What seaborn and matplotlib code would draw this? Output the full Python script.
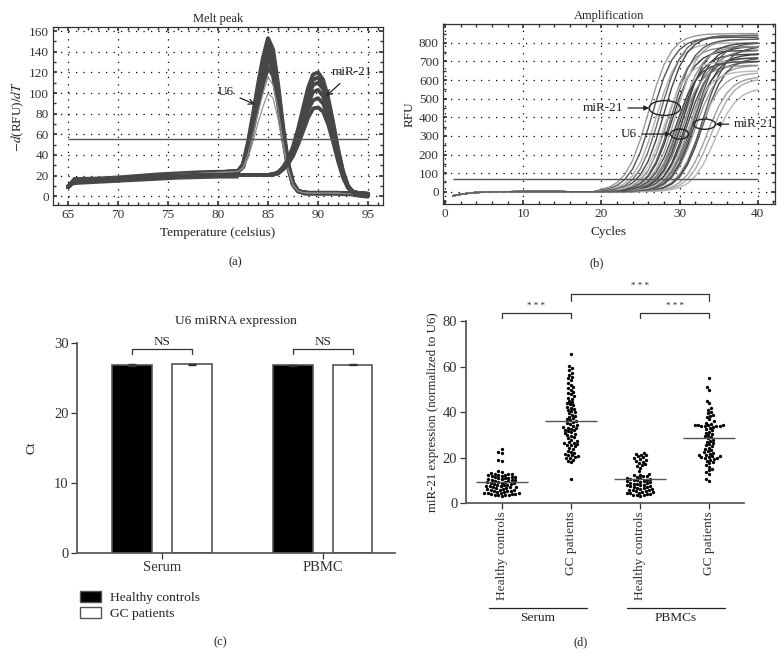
import numpy as np
import pandas as pd
import matplotlib
matplotlib.use('Agg')
import matplotlib.pyplot as plt
from matplotlib.patches import Ellipse, Patch
from matplotlib.ticker import AutoMinorLocator
import seaborn as sns

# ---------------- DATA ----------------
# (a) melt peak: temperature grid and curves
melt_temps = [65, 65.5, 66, 68, 70, 72, 74, 76, 78, 80, 81, 82,
              82.5, 83, 83.5, 84, 84.5, 85, 85.5, 86, 86.5, 87, 87.5, 88,
              88.5, 89, 89.5, 90, 90.5, 91, 91.5, 92, 92.5, 93, 93.5, 94, 95]
u6_start = [9, 14, 14, 15, 16.5, 18, 19.5, 21, 22, 23, 23.5, 24]
u6_end = [3.5, 3, 3, 3, 3, 3, 3, 3, 2.5, 2.5, 2.5, 2, 1.5]
u6_peaks = [
    [31, 52, 79, 108, 134, 153, 142, 108, 67, 32, 13, 5],
    [30, 50, 76, 104, 129, 147, 137, 104, 64, 31, 12, 5],
    [30, 48, 72, 98, 122, 140, 130, 100, 62, 30, 12, 5],
    [29, 46, 69, 94, 116, 133, 124, 95, 59, 29, 11, 5],
    [28, 44, 65, 88, 109, 125, 117, 90, 56, 28, 11, 5],
]
u6_faint = [
    [28, 41, 60, 81, 100, 115, 108, 84, 53, 27, 11, 5],
    [27, 37, 53, 71, 87, 100, 95, 75, 48, 25, 10, 5],
]
mir_start = [9, 14, 14, 15, 16.5, 17.5, 18.5, 19.5, 20, 20.5, 20.5, 20.5,
             20.5, 20.5, 20.5, 20.5, 20.5, 20.5, 21]
mir_end = [3, 2]
mir_peaks = [
    [23, 28, 36, 48, 65, 85, 105, 118, 120, 113, 96, 72, 46, 24, 10, 4],
    [23, 27, 35, 47, 63, 82, 101, 113, 115, 108, 92, 69, 44, 23, 9, 4],
    [23, 27, 34, 45, 60, 78, 96, 108, 110, 104, 88, 66, 42, 22, 9, 4],
    [23, 27, 33, 43, 57, 74, 90, 101, 103, 97, 83, 62, 40, 21, 9, 4],
    [22, 26, 32, 41, 54, 69, 84, 93, 95, 90, 77, 58, 37, 20, 8, 4],
    [22, 26, 31, 39, 50, 63, 76, 85, 86, 82, 70, 53, 34, 18, 8, 4],
]
# spread of the ~100 overlapping traces on the flat parts
melt_band_lo = [8, 11, 11.5, 12.5, 13.5, 14.5, 15.5, 16.5, 17, 17.5, 17.5, 17.5]
melt_band_hi = [13, 19, 19, 19.5, 20.5, 22, 23.5, 24.5, 25.5, 26, 26, 26]
melt_tail_lo = [1, 1, 1, 1, 1, 1, 1, 1, 0.5, 0.5, 0, -1, -2]
melt_tail_hi = [6, 5.5, 5.5, 5.5, 5.5, 5.5, 5.5, 5.5, 5.5, 5.5, 5, 5, 5]
melt_threshold = 55

# (b) amplification curves
amp_base_cycles = [1, 2, 3, 4, 5, 6, 8, 10, 12, 14, 16, 18, 19]
amp_base_rfu = [-22, -14, -8, -4, -2, -1, 0, 1, 1, 1, 0, 0, 0]
amp_cycles = [20, 21, 22, 23, 24, 25, 26, 27, 28, 29, 30,
              31, 32, 33, 34, 35, 36, 37, 38, 39, 40]
amp_curves = [
    [13, 25, 49, 93, 168, 282, 425, 568, 682, 757, 802, 825, 837, 844, 847, 848, 849, 850, 850, 850, 850],
    [9, 17, 34, 66, 123, 215, 343, 487, 615, 707, 764, 796, 813, 821, 826, 828, 829, 830, 830, 830, 830],
    [6, 12, 23, 46, 87, 158, 266, 400, 534, 642, 713, 754, 777, 788, 794, 797, 798, 799, 800, 800, 800],
    [3, 6, 12, 25, 48, 92, 166, 279, 420, 561, 674, 748, 792, 816, 827, 834, 837, 838, 839, 840, 840],
    [2, 4, 8, 16, 32, 62, 115, 202, 322, 458, 578, 665, 718, 748, 764, 771, 776, 778, 779, 780, 780],
    [1, 3, 6, 11, 22, 44, 83, 150, 252, 380, 508, 610, 677, 717, 738, 749, 755, 757, 758, 759, 760],
    [1, 2, 4, 9, 17, 34, 65, 121, 212, 339, 481, 608, 699, 755, 786, 803, 811, 816, 818, 819, 820],
    [1, 1, 3, 5, 11, 22, 42, 81, 147, 246, 370, 494, 593, 659, 698, 719, 729, 735, 737, 739, 740],
    [0, 1, 2, 4, 8, 15, 30, 57, 107, 186, 297, 423, 534, 613, 663, 690, 705, 712, 716, 718, 719],
    [0, 1, 1, 3, 6, 12, 23, 45, 85, 154, 259, 390, 521, 626, 695, 736, 757, 768, 775, 777, 778],
    [0, 0, 1, 2, 4, 7, 15, 29, 55, 104, 181, 289, 411, 519, 596, 645, 671, 685, 692, 696, 698],
    [0, 0, 1, 1, 3, 5, 10, 20, 39, 74, 135, 226, 340, 454, 545, 606, 641, 660, 670, 675, 677],
    [0, 0, 0, 1, 1, 3, 5, 11, 21, 41, 78, 143, 239, 360, 481, 577, 642, 679, 699, 709, 715],
    [0, 0, 0, 0, 1, 2, 3, 7, 13, 25, 49, 92, 161, 256, 364, 459, 528, 571, 595, 607, 613],
    [0, 0, 0, 0, 0, 1, 1, 3, 6, 12, 23, 44, 83, 145, 231, 329, 415, 477, 516, 537, 548],
    [1, 3, 6, 12, 24, 47, 89, 162, 272, 410, 548, 658, 731, 773, 796, 808, 814, 817, 818, 819, 820],
    [1, 1, 3, 5, 10, 20, 39, 74, 135, 226, 340, 454, 545, 606, 641, 660, 670, 675, 677, 679, 679],
    [0, 1, 2, 4, 8, 17, 33, 63, 118, 207, 330, 470, 593, 682, 737, 767, 783, 791, 796, 798, 799],
    [0, 1, 1, 3, 5, 11, 21, 41, 78, 143, 239, 360, 481, 577, 642, 679, 699, 709, 715, 717, 719],
    [0, 0, 1, 2, 4, 8, 16, 31, 60, 112, 197, 314, 446, 563, 648, 700, 729, 744, 752, 756, 758],
    [0, 0, 1, 1, 3, 5, 11, 22, 42, 81, 147, 246, 370, 494, 593, 659, 698, 719, 729, 735, 737],
    [0, 0, 0, 1, 2, 3, 7, 13, 26, 51, 95, 166, 264, 376, 474, 545, 589, 614, 627, 633, 637],
    [3, 5, 10, 21, 40, 76, 139, 232, 350, 468, 561, 624, 660, 680, 690, 695, 697, 699, 699, 700, 700],
    [4, 9, 17, 34, 66, 124, 218, 347, 493, 622, 716, 774, 806, 822, 831, 836, 837, 839, 840, 840, 840],
    [0, 0, 0, 1, 1, 3, 6, 12, 23, 45, 85, 154, 259, 390, 521, 626, 695, 736, 757, 768, 775],
    [1, 1, 3, 6, 12, 23, 45, 85, 154, 259, 390, 521, 626, 695, 736, 757, 768, 775, 777, 778, 779],
    [0, 1, 1, 2, 5, 10, 19, 37, 71, 129, 216, 325, 434, 521, 579, 613, 631, 640, 645, 647, 649],
    [1, 2, 4, 7, 15, 29, 55, 104, 181, 289, 411, 519, 596, 645, 671, 685, 692, 697, 698, 699, 700],
    [0, 0, 0, 0, 1, 1, 2, 5, 9, 18, 35, 66, 121, 203, 305, 407, 489, 544, 575, 592, 601],
    [0, 0, 1, 1, 3, 6, 12, 23, 46, 87, 158, 266, 400, 534, 642, 713, 754, 777, 788, 794, 797],
]
amp_threshold = 70

# (c) U6 Ct values
u6_tissues = ['Serum', 'PBMC']
u6_hc_ct = [26.85, 26.8]
u6_gc_ct = [26.95, 26.9]
u6_hc_sem = [0.15, 0.12]
u6_gc_sem = [0.12, 0.1]

# (d) relative miR-21 expression per subject
serum_hc = [3.2, 3.4, 3.5, 3.7, 3.8, 4.0, 4.1, 4.2, 4.3, 4.4, 4.5, 4.6, 4.8,
            5.0, 5.2, 5.4, 5.5, 5.7, 5.9, 6.0, 6.2, 6.4, 6.5,
            6.7, 6.9, 7.0, 7.2, 7.4, 7.5, 7.7, 7.9, 8.0, 8.2,
            8.4, 8.5, 8.7, 8.9, 9.0, 9.2, 9.4, 9.5, 9.7, 9.9,
            10.0, 10.2, 10.4, 10.5, 10.7, 10.9, 11.0, 11.2, 11.4, 11.5,
            11.7, 11.9, 12.0, 12.2, 12.4, 12.5, 12.7, 12.9, 13.0, 13.3,
            13.6, 14.0, 18.5, 19.0, 22.0, 22.3, 24.0]
serum_gc = [10.8, 18.0, 18.5, 19.2, 19.8, 20.0, 20.4, 20.8, 21.0, 21.3, 21.7, 22.0,
            22.5, 23.0, 23.8, 24.3, 25.0, 25.4, 25.8, 26.0, 26.3, 26.7, 27.0, 27.5,
            28.0, 28.5, 29.0, 29.5, 30.0, 30.4, 30.8, 31.2, 31.6, 32.0, 32.4, 32.8,
            33.0, 33.3, 33.7, 34.0, 34.4, 34.8, 35.2, 35.6, 36.0, 36.5, 37.0, 37.5,
            38.0, 38.5, 39.0, 39.5, 40.0, 40.5, 41.0, 41.5, 42.0, 42.5, 43.0, 43.5,
            44.0, 44.5, 45.0, 46.0, 46.5, 47.0, 48.0, 48.5, 49.0, 50.0, 50.5, 51.0,
            52.0, 53.0, 54.0, 55.0, 55.5, 56.5, 57.5, 58.5, 59.5, 60.5, 65.5]
pbmc_hc = [3.2, 3.4, 3.6, 3.8, 4.0, 4.1, 4.3, 4.5, 4.6, 4.8, 5.0, 5.2, 5.4,
           5.6, 5.8, 6.0, 6.2, 6.4, 6.6, 6.8, 7.0, 7.2, 7.4, 7.6, 7.8, 8.0,
           8.2, 8.4, 8.6, 8.8, 9.0, 9.2, 9.4, 9.6, 9.8, 10.0, 10.2, 10.4, 10.6,
           10.8, 11.0, 11.2, 11.5, 11.8, 12.0, 12.3, 12.6, 13.0, 14.0, 15.5,
           16.2, 16.8, 17.3, 17.8, 18.3, 18.7, 19.0, 19.4, 19.8, 20.2, 20.6,
           21.0, 21.4, 21.8, 22.2]
pbmc_gc = [9.8, 10.5, 13.0, 13.8, 14.5, 15.2, 16.0, 16.8, 17.5, 18.0, 18.5,
           19.0, 19.3, 19.7, 20.0, 20.1, 20.3, 20.6, 20.8, 21.0, 21.3, 21.7, 22.0,
           22.5, 23.0, 23.5, 24.0, 24.5, 25.0, 25.5, 26.0, 26.5, 27.0, 27.5,
           28.0, 28.5, 29.0, 29.5, 30.0, 30.5, 31.0, 31.5, 32.0, 32.5, 33.0,
           33.5, 33.8, 33.9, 34.0, 34.1, 34.2, 34.3, 34.5, 34.6, 35.0, 35.5,
           36.0, 37.0, 38.0, 38.5, 39.0, 39.5, 40.0, 41.0, 42.0, 44.0, 45.0,
           50.0, 51.0, 55.0]
d_groups = ['serum_hc', 'serum_gc', 'pbmc_hc', 'pbmc_gc']
d_ticklabels = ['Healthy controls', 'GC patients', 'Healthy controls', 'GC patients']

# ---------------- STYLE ----------------
sns.set_theme(style='ticks')
plt.rcParams['font.family'] = ['Liberation Serif', 'DejaVu Serif']
plt.rcParams['mathtext.fontset'] = 'stix'
plt.rcParams['axes.edgecolor'] = '#333333'
plt.rcParams['text.color'] = '#222222'
plt.rcParams['axes.labelcolor'] = '#222222'
plt.rcParams['xtick.color'] = '#333333'
plt.rcParams['ytick.color'] = '#333333'
FS = 9

fig = plt.figure(figsize=(7.84, 6.56), dpi=100)


def instrument_axes(ax):
    # boxed frame, inward minor ticks, dotted grid like the qPCR software
    for s in ax.spines.values():
        s.set_visible(True)
        s.set_linewidth(0.9)
    ax.xaxis.set_minor_locator(AutoMinorLocator(5))
    ax.yaxis.set_minor_locator(AutoMinorLocator(2))
    ax.tick_params(which='both', direction='in', top=True, right=True,
                   labelsize=FS + 0.5, pad=3)
    ax.tick_params(which='major', length=3)
    ax.tick_params(which='minor', length=2)
    ax.grid(True, which='major', color='black', linestyle=(0, (1, 5)), linewidth=0.9)


# ---------------- (a) MELT PEAK ----------------
ax_a = fig.add_axes([0.0676, 0.6875, 0.421, 0.271])
ax_a.fill_between(melt_temps[:12], melt_band_lo, melt_band_hi, color='#4a4a4a', lw=0)
ax_a.fill_between(melt_temps[-13:], melt_tail_lo, melt_tail_hi, color='#4a4a4a', lw=0)
for pk in u6_peaks:
    sns.lineplot(x=melt_temps, y=u6_start + pk + u6_end, ax=ax_a, color='#474747', lw=3.0)
for pk in u6_faint:
    sns.lineplot(x=melt_temps, y=u6_start + pk + u6_end, ax=ax_a, color='#8a8a8a', lw=0.8)
for pk in mir_peaks:
    sns.lineplot(x=melt_temps, y=mir_start + pk + mir_end, ax=ax_a, color='#474747', lw=2.8)
ax_a.hlines(melt_threshold, 65, 95, color='#555555', lw=1)
ax_a.set_xlim(63.5, 96.5)
ax_a.set_ylim(-8.6, 163.8)
ax_a.set_xticks([65, 70, 75, 80, 85, 90, 95])
ax_a.set_yticks(range(0, 161, 20))
instrument_axes(ax_a)
ax_a.set_title('Melt peak', fontsize=FS, pad=4)
ax_a.set_xlabel('Temperature (celsius)', fontsize=FS + 0.5, labelpad=4)
ax_a.set_ylabel(r'$-d$(RFU)$/dT$', fontsize=FS + 0.5, labelpad=2)
ax_a.annotate('U6', xy=(83.7, 89), xytext=(80.0, 101), fontsize=FS + 0.5,
              va='center', arrowprops=dict(arrowstyle='->', color='#222222', lw=0.9,
                                            shrinkA=2, shrinkB=0))
ax_a.annotate('miR-21', xy=(90.8, 97), xytext=(91.4, 120), fontsize=FS + 0.5,
              va='center', arrowprops=dict(arrowstyle='->', color='#222222', lw=0.9,
                                            shrinkA=2, shrinkB=0))

# ---------------- (b) AMPLIFICATION ----------------
ax_b = fig.add_axes([0.565, 0.689, 0.4235, 0.274])
amp_greys = ['#9a9a9a', '#555555', '#b0b0b0', '#444444', '#888888',
             '#3c3c3c', '#a5a5a5', '#444444', '#777777', '#3a3a3a',
             '#666666', '#9a9a9a', '#505050', '#a0a0a0', '#b5b5b5',
             '#5a5a5a', '#8c8c8c', '#404040', '#4a4a4a', '#7a7a7a',
             '#3e3e3e', '#a8a8a8', '#c0c0c0', '#6a6a6a', '#525252',
             '#909090', '#b8b8b8', '#484848', '#aaaaaa', '#5e5e5e']
for curve, g in zip(amp_curves, amp_greys):
    sns.lineplot(x=amp_base_cycles + amp_cycles, y=amp_base_rfu + curve, ax=ax_b,
                 color=g, lw=1.0)
ax_b.hlines(amp_threshold, 1, 40, color='#555555', lw=1)
ax_b.set_xlim(-0.26, 42.2)
ax_b.set_ylim(-66, 900)
ax_b.set_xticks([0, 10, 20, 30, 40])
ax_b.set_yticks(range(0, 801, 100))
instrument_axes(ax_b)
ax_b.set_title('Amplification', fontsize=FS, pad=4)
ax_b.set_xlabel('Cycles', fontsize=FS + 0.5, labelpad=4)
ax_b.set_ylabel('RFU', fontsize=FS + 0.5, labelpad=2)
for (cx, cy, w, h) in [(28.1, 450, 4.0, 80), (30.0, 310, 2.3, 54), (33.2, 363, 2.8, 55)]:
    ax_b.add_patch(Ellipse((cx, cy), w, h, fill=False, ec='#222222', lw=1.0, zorder=5))
arrow_kw = dict(arrowstyle='-|>', color='#222222', lw=0.9, mutation_scale=7,
                shrinkA=1, shrinkB=0)
ax_b.annotate('miR-21', xy=(26.1, 450), xytext=(22.8, 450), ha='right', va='center',
              fontsize=FS + 0.5, arrowprops=arrow_kw, zorder=6)
ax_b.annotate('U6', xy=(28.85, 310), xytext=(24.6, 310), ha='right', va='center',
              fontsize=FS + 0.5, arrowprops=arrow_kw, zorder=6)
ax_b.annotate('miR-21', xy=(34.6, 363), xytext=(36.9, 363), ha='left', va='center',
              fontsize=FS + 0.5, arrowprops=arrow_kw, zorder=6)

# ---------------- (c) U6 Ct BARS ----------------
FS_CD = 10.5
ax_c = fig.add_axes([0.098, 0.157, 0.406, 0.32])
df_c = pd.DataFrame({
    'tissue': u6_tissues * 2,
    'group': ['Healthy controls'] * 2 + ['GC patients'] * 2,
    'ct': u6_hc_ct + u6_gc_ct,
})
sns.barplot(data=df_c, x='tissue', y='ct', hue='group', order=u6_tissues,
            hue_order=['Healthy controls', 'GC patients'],
            palette=['black', 'white'], errorbar=None, width=0.74, gap=0.33,
            edgecolor='#555555', linewidth=1.2, legend=False, ax=ax_c)
for i, (hc, gc, e1, e2) in enumerate(zip(u6_hc_ct, u6_gc_ct, u6_hc_sem, u6_gc_sem)):
    ax_c.errorbar([i - 0.185, i + 0.185], [hc, gc], yerr=[e1, e2], fmt='none',
                  ecolor='#333333', elinewidth=0.8, capsize=3)
    ax_c.plot([i - 0.185, i - 0.185, i + 0.185, i + 0.185], [28.4, 29.1, 29.1, 28.4],
              color='#333333', lw=0.9, clip_on=False)
    ax_c.text(i, 29.3, 'NS', ha='center', va='bottom', fontsize=FS + 0.5)
ax_c.set_xlim(-0.53, 1.45)
ax_c.set_ylim(0, 30)
ax_c.set_yticks([0, 10, 20, 30])
sns.despine(ax=ax_c)
ax_c.spines['left'].set_color('#555555')
ax_c.spines['bottom'].set_color('#555555')
ax_c.tick_params(labelsize=FS_CD, length=4, width=0.9, pad=2)
ax_c.set_xlabel('')
ax_c.set_ylabel('Ct', fontsize=FS + 0.5, labelpad=12)
ax_c.set_title('U6 miRNA expression', fontsize=FS + 0.6, pad=14)
fig.legend(handles=[Patch(facecolor='black', edgecolor='#555555', label='Healthy controls'),
                    Patch(facecolor='white', edgecolor='#555555', label='GC patients')],
           loc='upper left', bbox_to_anchor=(0.095, 0.108), frameon=False,
           fontsize=FS + 0.7, handlelength=1.6, handleheight=0.9, labelspacing=0.25,
           handletextpad=0.6, borderaxespad=0)

# ---------------- (d) miR-21 SCATTER ----------------
ax_d = fig.add_axes([0.594, 0.233, 0.355, 0.277])
df_d = pd.concat([pd.DataFrame({'grp': k, 'val': v}) for k, v in
                  zip(d_groups, [serum_hc, serum_gc, pbmc_hc, pbmc_gc])])
sns.swarmplot(data=df_d, x='grp', y='val', order=d_groups, color='black',
              size=2.4, ax=ax_d, warn_thresh=1)
means = df_d.groupby('grp')['val'].mean().reindex(d_groups)
ax_d.hlines(means.values, np.arange(4) - 0.375, np.arange(4) + 0.375,
            color='#555555', lw=1.0, zorder=3)
ax_d.set_xlim(-0.52, 3.5)
ax_d.set_ylim(0, 80)
ax_d.set_yticks([0, 20, 40, 60, 80])
ax_d.set_xticks(range(4))
sns.despine(ax=ax_d)
ax_d.spines['left'].set_color('#555555')
ax_d.spines['bottom'].set_color('#555555')
ax_d.tick_params(labelsize=FS_CD, length=4, width=0.9, pad=2)
ax_d.set_xticklabels(d_ticklabels, rotation=90, fontsize=FS + 0.6)
ax_d.set_xlabel('')
ax_d.set_ylabel('miR-21 expression (normalized to U6)', fontsize=FS + 0.3, labelpad=3)


def bracket(ax, x0, x1, y_top, y_bot, y_txt):
    ax.plot([x0, x0, x1, x1], [y_bot, y_top, y_top, y_bot], color='#333333',
            lw=0.9, clip_on=False)
    ax.text((x0 + x1) / 2, y_txt, '* * *', ha='center', va='center',
            fontsize=FS - 2.5, clip_on=False)


bracket(ax_d, 0, 1, 83.5, 81.3, 86.6)
bracket(ax_d, 2, 3, 83.5, 81.3, 86.6)
bracket(ax_d, 1, 3, 92.3, 89.2, 95.8)
tr = ax_d.get_xaxis_transform()
for x0, x1, lab in [(-0.19, 1.23, 'Serum'), (1.81, 3.23, 'PBMCs')]:
    ax_d.plot([x0, x1], [-0.577, -0.577], color='#222222', lw=0.9,
              transform=tr, clip_on=False)
    ax_d.text((x0 + x1) / 2, -0.6, lab, ha='center', va='top', fontsize=FS + 0.6,
              transform=tr)

# ---------------- PANEL LABELS ----------------
for x, y, lab in [(0.2997, 0.6006, '(a)'), (0.7615, 0.5990, '(b)'),
                  (0.2806, 0.0213, '(c)'), (0.741, 0.0213, '(d)')]:
    fig.text(x, y, lab, ha='center', va='center', fontsize=FS)

fig.savefig('out.png', dpi=100, facecolor='white')
